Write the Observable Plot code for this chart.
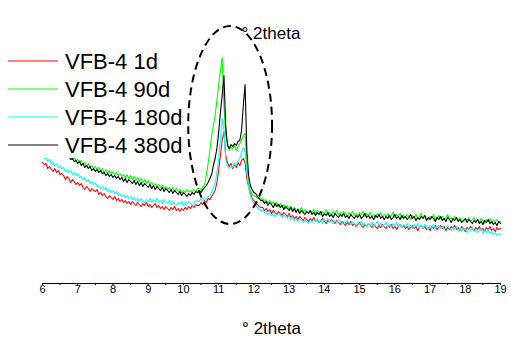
<!DOCTYPE html>
<html><head><meta charset="utf-8">
<script src="https://cdn.jsdelivr.net/npm/d3@7"></script>
<script src="https://cdn.jsdelivr.net/npm/@observablehq/plot@0.6"></script>
<style>
body{margin:0;background:#fff;}
#chart{position:relative;width:511px;height:338px;}
</style></head>
<body><div id="chart"></div>
<script>
// Sampling grid in degrees 2theta: 6.0–10.4, 10.45–12.2, 12.25–19.0 (0.05 steps)
const twoTheta = [
  ...d3.range(120, 209).map(d => d / 20),
  ...d3.range(209, 245).map(d => d / 20),
  ...d3.range(245, 381).map(d => d / 20)
];

const seriesNames = ["VFB-4 1d", "VFB-4 90d", "VFB-4 180d", "VFB-4 380d"];
const seriesColors = ["#ff0000", "#00ff00", "#00ffff", "#000000"];

// intensities (a.u.)
const red1d = [
  121,119,120,115,117,114,112,115,111,113,109,110,108,104,107,105,101,104,102,99,
  101,98,100,96,94,97,95,92,95,93,92,94,89,91,88,90,87,85,88,86,
  84,87,83,85,82,84,81,83,80,82,79,82,80,78,81,79,77,80,78,81,
  77,79,76,78,80,76,78,75,77,74,77,75,73,76,74,77,73,75,72,75,
  73,76,74,77,75,78,76,79,78,
  78,81,79,83,81,85,84,87,90,93,101,113,128,143,152,128,121,117,120,115,119,116,121,118,123,125,121,105,97,90,85,83,80,79,77,76,
  76,73,75,72,74,70,73,71,69,72,
  70,68,71,69,67,70,66,68,65,67,
  64,67,65,63,66,64,62,65,63,66,
  62,64,61,63,65,62,60,63,61,64,
  62,60,63,61,59,62,60,58,61,59,
  62,58,60,57,59,61,58,56,59,57,
  60,58,56,59,57,55,58,56,59,57,
  55,58,56,59,55,57,54,57,59,56,
  58,55,57,54,56,58,55,57,53,56,
  58,55,57,54,56,53,57,55,58,54,
  56,58,55,57,53,56,54,57,55,58,
  54,56,53,57,55,52,56,54,57,55,
  53,56,54,57,53,55,52,56,54,57,
  53,55,52,56,54,55
];
const green90d = [
  143,141,142,139,140,137,138,135,136,133,134,131,132,128,130,126,127,124,126,123,
  124,121,123,119,121,117,120,116,118,115,117,114,116,112,115,111,114,110,113,110,
  112,109,111,108,110,107,109,106,109,105,108,104,107,103,106,102,105,101,104,100,
  103,99,101,98,100,97,99,96,98,95,97,94,96,93,96,92,95,92,94,91,
  93,91,94,92,93,91,94,92,95,
  95,93,97,99,108,120,133,148,158,168,183,198,213,226,178,148,141,133,137,135,138,133,137,140,143,148,150,118,101,93,89,88,87,85,86,84,
  85,82,84,80,83,79,82,78,81,77,
  80,76,79,75,78,74,77,73,76,72,
  75,73,76,71,74,72,70,73,71,74,
  70,73,71,69,72,70,74,69,71,68,
  72,70,73,69,71,68,72,70,67,71,
  69,72,68,70,67,71,69,72,67,70,
  68,71,67,69,66,70,68,71,66,69,
  67,70,66,68,71,66,69,67,70,65,
  68,66,69,67,64,68,66,69,65,67,
  70,65,68,66,64,67,65,69,64,66,
  68,65,67,64,66,69,64,66,63,67,
  65,63,66,64,62,65,63,66,62,64,
  66,62,64,61,65,63,60,64,62,65,
  61,63,62,64,61,62
];
const cyan180d = [
  127,125,126,122,124,120,121,118,120,116,118,115,116,112,114,111,113,109,111,108,
  110,106,107,104,106,102,104,100,102,99,101,97,98,95,97,94,96,92,94,91,
  93,90,92,88,90,87,89,86,88,85,87,84,86,83,85,82,85,83,81,84,
  82,85,81,84,82,85,81,83,80,84,82,80,83,79,82,80,78,81,79,82,
  78,81,79,82,80,78,81,83,82,
  82,85,83,86,84,87,88,91,95,101,111,125,145,165,153,125,117,115,118,116,120,118,123,125,131,136,133,111,97,88,83,80,78,76,74,73,
  73,71,72,69,71,68,70,67,69,70,
  68,66,69,67,65,68,64,66,63,65,
  62,65,63,61,64,62,60,63,61,64,
  62,65,61,63,60,64,62,65,61,63,
  60,63,61,64,62,59,62,60,63,61,
  59,62,60,58,61,59,62,58,60,57,
  60,58,61,57,59,62,58,60,57,59,
  61,57,59,56,60,58,61,57,59,56,
  59,57,60,56,58,55,59,57,60,56,
  58,55,59,57,54,58,56,59,55,57,
  58,55,57,54,56,58,55,53,56,54,
  57,53,55,52,56,54,51,55,53,56,
  52,54,51,53,55,50,53,51,54,50,
  52,49,51,48,50,49
];
const black380d = [
  140,139,137,138,135,136,133,134,131,133,130,131,128,129,126,127,124,125,122,123,
  120,122,118,120,116,118,115,117,113,115,112,114,111,113,110,111,108,110,107,109,
  106,108,105,107,104,106,102,105,101,104,102,100,103,99,102,98,101,97,100,98,
  96,99,95,98,94,97,95,93,96,92,95,93,91,94,90,93,91,89,92,88,
  91,89,87,90,88,91,89,92,91,
  93,91,94,96,98,101,105,109,118,125,135,151,171,188,208,158,138,135,139,137,140,138,142,143,153,178,199,133,108,98,94,91,90,87,85,83,
  83,80,82,78,81,79,76,80,77,79,
  76,78,74,77,75,73,76,72,75,71,
  74,70,73,71,69,72,70,73,69,71,
  68,71,69,72,67,70,68,71,67,69,
  66,70,68,66,69,67,70,66,68,65,
  69,67,65,68,66,69,65,67,70,66,
  68,65,67,64,68,66,69,65,67,64,
  67,65,68,64,66,69,65,67,64,68,
  65,67,64,66,69,65,67,63,66,64,
  67,65,68,63,66,64,67,65,62,66,
  64,67,63,65,62,66,64,61,65,63,
  66,62,64,61,63,65,61,64,62,60,
  63,61,64,60,62,59,63,61,64,60,
  62,59,61,58,62,60
];
const seriesValues = [red1d, green90d, cyan180d, black380d];

const xTicks = d3.range(6, 20);
const xMinorTicks = d3.range(12, 39).map(d => d / 2);
const axisTitle = "° 2theta";
const ring = {x: 11.34, y: 158, rx: 1.19, ry: 99};

const rows = seriesNames.flatMap((name, i) =>
  twoTheta.map((t, j) => ({series: name, t, v: seriesValues[i][j]})).filter(d => d.v !== undefined));

const font = "Arial, 'Liberation Sans', sans-serif";
const plot = Plot.plot({
  width: 511, height: 338,
  marginLeft: 42, marginRight: 11, marginTop: 33, marginBottom: 55,
  style: {fontFamily: font, fontSize: "11px", color: "#000", background: "#fff"},
  x: {domain: [6, 19]},
  y: {domain: [0, 250], axis: null},
  color: {domain: seriesNames, range: seriesColors},
  marks: [
    Plot.line(rows, {x: "t", y: "v", z: "series", stroke: "series", strokeWidth: 1.1}),
    Plot.ruleY([0], {stroke: "#000", strokeWidth: 1}),
    Plot.axisX(xMinorTicks, {tickSize: 2, tickFormat: () => "", label: null, stroke: "#000"}),
    Plot.axisX(xTicks, {tickSize: 0, tickPadding: 2, label: null, fontSize: 11, fill: "#000"}),
    Plot.text([axisTitle], {frameAnchor: "bottom", dy: 50, lineAnchor: "bottom", fontSize: 17, fill: "#000"}),
    Plot.text([axisTitle], {x: () => 11.65, frameAnchor: "top", textAnchor: "start", lineAnchor: "middle", fontSize: 17, fill: "#000"})
  ]
});

const svg = d3.select(plot);
// legend box (opaque, covers the start of the traces as in the original)
const lg = svg.append("g").attr("font-family", font).attr("font-size", 22).attr("text-anchor", "start");
lg.append("rect").attr("x", 0).attr("y", 42).attr("width", 186).attr("height", 116).attr("fill", "#fff");
seriesNames.forEach((name, i) => {
  const y = 61 + i * 28;
  lg.append("line").attr("x1", 8).attr("x2", 58).attr("y1", y).attr("y2", y)
    .attr("stroke", seriesColors[i]).attr("stroke-width", 1);
  lg.append("text").attr("x", 65).attr("y", y).attr("dy", "0.36em")
    .attr("text-anchor", "start").attr("fill", "#000").text(name);
});

const sx = plot.scale("x"), sy = plot.scale("y");
svg.append("ellipse")
  .attr("cx", sx.apply(ring.x)).attr("cy", sy.apply(ring.y))
  .attr("rx", sx.apply(ring.x + ring.rx) - sx.apply(ring.x))
  .attr("ry", sy.apply(ring.y - ring.ry) - sy.apply(ring.y))
  .attr("fill", "none").attr("stroke", "#000").attr("stroke-width", 2)
  .attr("stroke-dasharray", "8,5");

document.getElementById("chart").appendChild(plot);
</script>
</body></html>
